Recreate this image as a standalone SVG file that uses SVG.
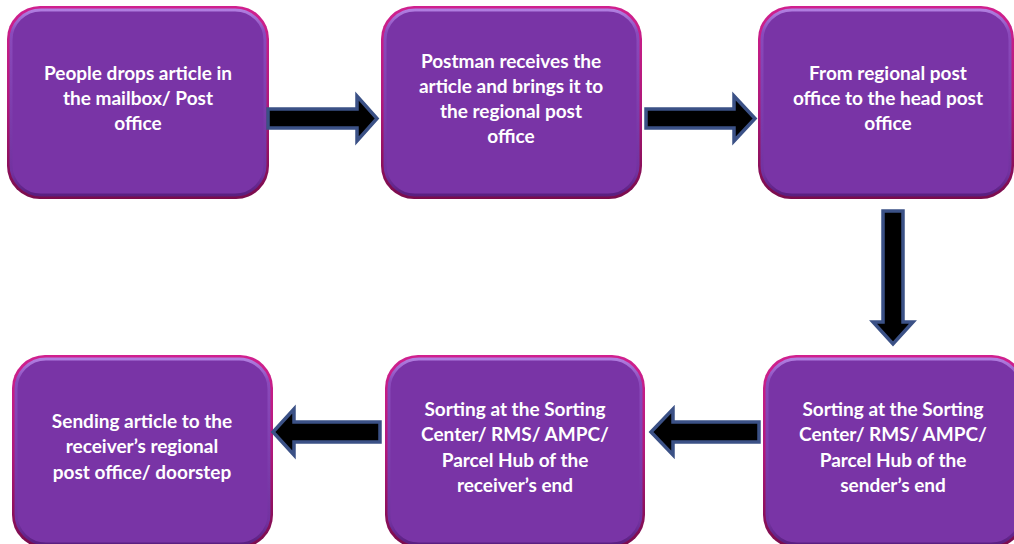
<svg xmlns="http://www.w3.org/2000/svg" width="1014" height="544" viewBox="0 0 1014 544">
  <style>
    .rim { fill: url(#rimGrad); }
    .face { fill: #7934a6; stroke: url(#bevelGrad); stroke-width: 3; }
    .label { font-family: Lato, "Open Sans", "Liberation Sans", sans-serif; font-weight: bold; font-size: 19px; fill: #ffffff; text-anchor: middle; }
    .arrow { fill: #000000; stroke: #3b5186; stroke-width: 3.5; stroke-linejoin: miter; }
  </style>
  <defs>
    <linearGradient id="rimGrad" x1="0" y1="0" x2="0" y2="1">
      <stop offset="0" stop-color="#d0208e"/>
      <stop offset="0.5" stop-color="#b0187a"/>
      <stop offset="1" stop-color="#7a0c4c"/>
    </linearGradient>
    <linearGradient id="bevelGrad" x1="0" y1="0" x2="0" y2="1">
      <stop offset="0" stop-color="#b07ee0"/>
      <stop offset="0.12" stop-color="#8a4abb"/>
      <stop offset="0.88" stop-color="#7232a0"/>
      <stop offset="1" stop-color="#5a1f80"/>
    </linearGradient>
  </defs>

  <!-- step boxes -->
  <g id="step1">
    <rect class="rim" x="7" y="6" width="262" height="193" rx="33"/>
    <rect class="face" x="11" y="10" width="254" height="185" rx="30"/>
    <text class="label" x="138" y="80">People drops article in</text>
    <text class="label" x="138" y="105">the mailbox/ Post</text>
    <text class="label" x="138" y="130">office</text>
  </g>
  <g id="step2">
    <rect class="rim" x="381" y="6" width="261" height="193" rx="33"/>
    <rect class="face" x="385" y="10" width="253" height="185" rx="30"/>
    <text class="label" x="511" y="68">Postman receives the</text>
    <text class="label" x="511" y="93">article and brings it to</text>
    <text class="label" x="511" y="118">the regional post</text>
    <text class="label" x="511" y="143">office</text>
  </g>
  <g id="step3">
    <rect class="rim" x="758" y="6" width="256" height="193" rx="33"/>
    <rect class="face" x="762" y="10" width="248" height="185" rx="30"/>
    <text class="label" x="888" y="80">From regional post</text>
    <text class="label" x="888" y="105">office to the head post</text>
    <text class="label" x="888" y="130">office</text>
  </g>
  <g id="step4">
    <rect class="rim" x="763" y="355" width="262" height="193" rx="33"/>
    <rect class="face" x="767" y="359" width="254" height="185" rx="30"/>
    <text class="label" x="893" y="416">Sorting at the Sorting</text>
    <text class="label" x="893" y="441">Center/ RMS/ AMPC/</text>
    <text class="label" x="893" y="467">Parcel Hub of the</text>
    <text class="label" x="893" y="492">sender’s end</text>
  </g>
  <g id="step5">
    <rect class="rim" x="385" y="355" width="260" height="193" rx="33"/>
    <rect class="face" x="389" y="359" width="252" height="185" rx="30"/>
    <text class="label" x="515" y="416">Sorting at the Sorting</text>
    <text class="label" x="515" y="441">Center/ RMS/ AMPC/</text>
    <text class="label" x="515" y="467">Parcel Hub of the</text>
    <text class="label" x="515" y="492">receiver’s end</text>
  </g>
  <g id="step6">
    <rect class="rim" x="12" y="355" width="261" height="193" rx="33"/>
    <rect class="face" x="16" y="359" width="253" height="185" rx="30"/>
    <text class="label" x="142" y="428">Sending article to the</text>
    <text class="label" x="142" y="453">receiver’s regional</text>
    <text class="label" x="142" y="479">post office/ doorstep</text>
  </g>

  <!-- block arrows between steps -->
  <g id="connectors">
    <path class="arrow" d="M268,109 H357 V96 L377,118.5 L357,141 V128 H268 Z"/>
    <path class="arrow" d="M646,109 H734 V96 L755,118.5 L734,141 V128 H646 Z"/>
    <path class="arrow" d="M883,211 H903 V322 H913 L893,344 L873,322 H883 Z"/>
    <path class="arrow" d="M380,422 H294 V409 L273,432 L294,455 V442 H380 Z"/>
    <path class="arrow" d="M759,422 H673 V409 L651,432 L673,455 V442 H759 Z"/>
  </g>
</svg>
